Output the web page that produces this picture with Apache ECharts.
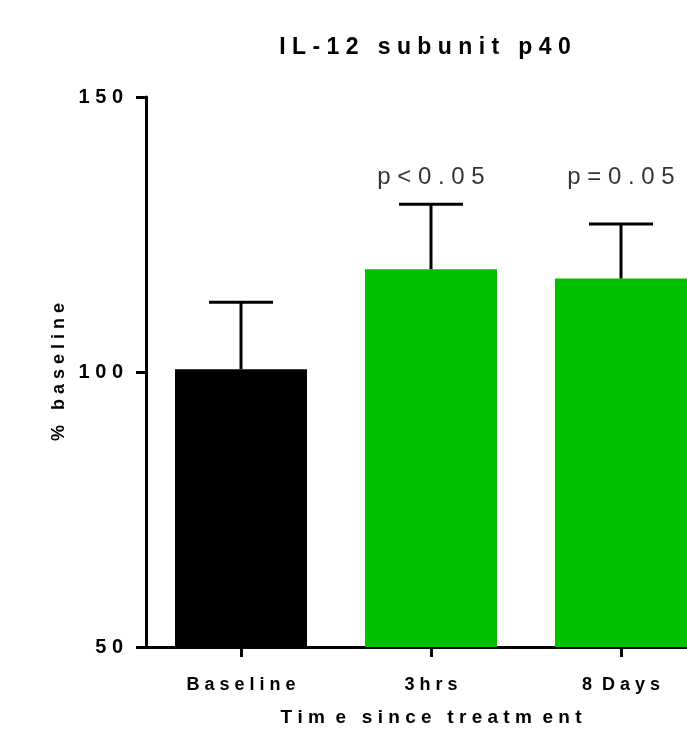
<!DOCTYPE html>
<html>
<head>
    <meta charset="UTF-8">
    <title>IL-12 subunit p40</title>
    <script src="https://cdn.jsdelivr.net/npm/echarts@6/dist/echarts.min.js"></script>
    <style>
        body { margin: 0; background: #ffffff; }
        #chart { width: 687px; height: 744px; }
    </style>
</head>
<body>
    <div id="chart"></div>
    <script>
        // data
        var categories = ['Baseline', '3hrs', '8 Days'];
        var catLabels = ['B a s e l i n e', '3 h r s', '8  D a y s'];
        var meanValues = [100.5, 118.7, 117.0];
        var upperValues = [112.7, 130.5, 126.9];
        var barColors = ['#000000', '#00c000', '#00c000'];
        var pLabels = ['', 'p < 0 . 0 5', 'p = 0 . 0 5'];
        var pLabelY = [null, 135.3, 135.3];
        var yTicks = [50, 100, 150];

        var font = '"Liberation Sans", Arial, sans-serif';

        function spaced(s) {
            return String(s).split('').join(' ');
        }

        var chart = echarts.init(document.getElementById('chart'), null, {renderer: 'canvas'});

        var option = {
            animation: false,
            backgroundColor: '#ffffff',
            title: {
                text: 'I L - 1 2   s u b u n i t   p 4 0',
                left: 420,
                top: 31,
                textAlign: 'center',
                textStyle: {fontFamily: font, fontSize: 23, fontWeight: 'bold', color: '#000'}
            },
            // plot runs past the right edge of the picture, as in the reference
            grid: {left: 146, width: 570, top: 97, height: 550, outerBoundsMode: 'none', containLabel: false},
            xAxis: {
                type: 'category',
                data: categories,
                name: 'T i m  e   s i n c e   t r e a t m  e n t',
                nameLocation: 'middle',
                nameGap: 61,
                nameTextStyle: {fontFamily: font, fontSize: 19, fontWeight: 'bold', color: '#000'},
                axisLine: {lineStyle: {color: '#000', width: 3}},
                axisTick: {show: true, alignWithLabel: true, length: 10, lineStyle: {color: '#000', width: 3}},
                axisLabel: {
                    margin: 29,
                    fontFamily: font, fontSize: 18, fontWeight: 'bold', color: '#000',
                    formatter: function (v, i) { return catLabels[i]; }
                }
            },
            yAxis: {
                type: 'value',
                min: 50,
                max: 150,
                interval: 50,
                name: '%   b a s e l i n e',
                nameLocation: 'middle',
                nameRotate: 90,
                nameGap: 76,
                nameTextStyle: {fontFamily: font, fontSize: 18, fontWeight: 'bold', color: '#000'},
                splitLine: {show: false},
                axisLine: {show: true, lineStyle: {color: '#000', width: 3}},
                axisTick: {show: true, length: 10, lineStyle: {color: '#000', width: 3}},
                axisLabel: {
                    margin: 23,
                    fontFamily: font, fontSize: 20, fontWeight: 'bold', color: '#000',
                    formatter: function (v) { return yTicks.indexOf(v) >= 0 ? spaced(v) : ''; }
                }
            },
            series: [
                {
                    type: 'bar',
                    barWidth: 132,
                    data: meanValues.map(function (v, i) {
                        return {value: v, itemStyle: {color: barColors[i]}};
                    }),
                    z: 2
                },
                {
                    type: 'custom',
                    z: 3,
                    data: meanValues.map(function (v, i) { return [i, v, upperValues[i]]; }),
                    renderItem: function (params, api) {
                        var p0 = api.coord([api.value(0), api.value(1)]);
                        var p1 = api.coord([api.value(0), api.value(2)]);
                        var half = 32;
                        var style = {stroke: '#000', lineWidth: 3};
                        return {
                            type: 'group',
                            children: [
                                {type: 'line', shape: {x1: p0[0], y1: p0[1], x2: p1[0], y2: p1[1]}, style: style},
                                {type: 'line', shape: {x1: p1[0] - half, y1: p1[1], x2: p1[0] + half, y2: p1[1]}, style: style}
                            ]
                        };
                    }
                },
                {
                    type: 'scatter',
                    symbolSize: 1,
                    itemStyle: {color: 'rgba(0,0,0,0)'},
                    data: pLabelY.map(function (v, i) { return [i, v]; }),
                    label: {
                        show: true,
                        position: 'top',
                        distance: -12,
                        fontFamily: font, fontSize: 24, color: '#000',
                        formatter: function (p) { return pLabels[p.dataIndex]; }
                    }
                }
            ]
        };

        chart.setOption(option);
    </script>
</body>
</html>
